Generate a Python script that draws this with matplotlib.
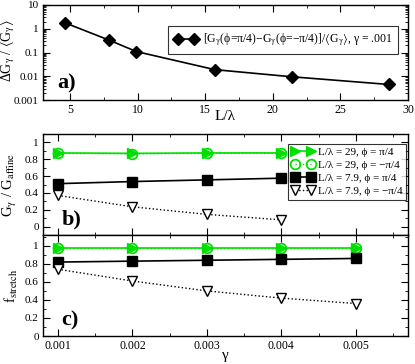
import matplotlib
matplotlib.use("Agg")
import matplotlib.pyplot as plt
from matplotlib.ticker import MultipleLocator, LogLocator, NullFormatter, FuncFormatter

plt.rcParams['font.family'] = ['Liberation Serif', 'DejaVu Serif']
plt.rcParams['mathtext.fontset'] = 'stix'

# Panel a data
L_lambda = [4.6, 7.9, 9.9, 15.7, 21.4, 28.6]
dG = [1.8, 0.33, 0.11, 0.019, 0.0095, 0.0045]

# Panel b data
gamma_b = [0.001, 0.002, 0.003, 0.004]
b_29_pos = [0.875, 0.87, 0.875, 0.875]
b_29_neg = [0.87, 0.865, 0.87, 0.87]
b_79_pos = [0.51, 0.535, 0.555, 0.575]
b_79_neg = [0.37, 0.235, 0.145, 0.08]

# Panel c data
gamma_c = [0.001, 0.002, 0.003, 0.004, 0.005]
c_29_pos = [0.98, 0.98, 0.98, 0.98, 0.98]
c_29_neg = [0.98, 0.98, 0.98, 0.98, 0.98]
c_79_pos = [0.82, 0.83, 0.84, 0.85, 0.86]
c_79_neg = [0.74, 0.61, 0.50, 0.42, 0.36]

labels = ['L/λ = 29, ϕ = π/4', 'L/λ = 29, ϕ = −π/4',
          'L/λ = 7.9, ϕ = π/4', 'L/λ = 7.9, ϕ = −π/4']

green = '#00e000'
fig = plt.figure(figsize=(4.15, 3.64), dpi=100)
W, H = 415, 364
def ax_rect(l, t, r, b):
    return [l / W, 1 - b / H, (r - l) / W, (b - t) / H]

axa = fig.add_axes(ax_rect(43, 5, 408, 100))
axb = fig.add_axes(ax_rect(43, 134, 408, 235))
axc = fig.add_axes(ax_rect(43, 235, 408, 336))

for ax in (axa, axb, axc):
    ax.tick_params(direction='in', which='both', top=True, right=True, labelsize=8.5, pad=3)
    ax.tick_params(which='major', length=5)
    ax.tick_params(which='minor', length=2.5)
    for s in ax.spines.values():
        s.set_linewidth(1.0)
for ax in (axa, axb, axc):
    ax.tick_params(axis='y', labelsize=8)

# Panel a
axa.plot(L_lambda, dG, color='black', marker='D', markersize=6, lw=1.2,
         label=r'[G$_\mathrm{\gamma}$(ϕ=π/4)−G$_\mathrm{\gamma}$(ϕ=−π/4)]/$\langle$G$_\mathrm{\gamma}\rangle$, γ = .001')
axa.set_yscale('log')
axa.set_xlim(3, 30)
axa.set_ylim(0.001, 10)
axa.xaxis.set_major_locator(MultipleLocator(5))
axa.xaxis.set_minor_locator(MultipleLocator(2.5))
axa.yaxis.set_minor_locator(LogLocator(base=10, subs=range(2, 10), numticks=10))
axa.yaxis.set_minor_formatter(NullFormatter())
axa.set_yticks([0.001, 0.01, 0.1, 1, 10])
axa.set_yticklabels(['0.001', '0.01', '0.1', '1', '10'])
axa.set_xlabel('L/λ', fontsize=11)
axa.xaxis.set_label_coords(0.5, -0.11)
axa.set_ylabel(r'ΔG$_\mathrm{\gamma}$ / $\langle$G$_\mathrm{\gamma}\rangle$', fontsize=10)
axa.yaxis.set_label_coords(-0.071, 0.52)
leg = axa.legend(loc='upper right', bbox_to_anchor=(0.99, 0.84), numpoints=2,
                 fontsize=8.5, frameon=True, fancybox=False, edgecolor='black',
                 handlelength=2.0, borderpad=0.5, handletextpad=0.4)
leg.get_frame().set_linewidth(0.8)
axa.text(0.04, 0.12, 'a)', transform=axa.transAxes, fontsize=16, fontweight='bold')

def draw_series(ax, g, s1, s2, s3, s4, lab):
    ax.plot(g, s1, color=green, marker='>', markersize=7, lw=1.2,
            markeredgecolor=green, label=lab[0] if lab else None)
    ax.plot(g, s2, color=green, marker='o', markersize=7, lw=1.0, ls=':',
            markerfacecolor='none', markeredgecolor=green, markeredgewidth=1.3,
            label=lab[1] if lab else None)
    ax.plot(g, s3, color='black', marker='s', markersize=6.5, lw=1.2,
            label=lab[2] if lab else None)
    ax.plot(g, s4, color='black', marker='v', markersize=7, lw=1.0, ls=':',
            markerfacecolor='white', markeredgecolor='black', markeredgewidth=1.0,
            label=lab[3] if lab else None)

draw_series(axb, gamma_b, b_29_pos, b_29_neg, b_79_pos, b_79_neg, labels)
draw_series(axc, gamma_c, c_29_pos, c_29_neg, c_79_pos, c_79_neg, None)

for ax in (axb, axc):
    ax.set_xlim(0.0008, 0.0057)
    ax.xaxis.set_major_locator(MultipleLocator(0.001))
    ax.xaxis.set_minor_locator(MultipleLocator(0.0005))
    ax.yaxis.set_major_locator(MultipleLocator(0.2))
    ax.yaxis.set_minor_locator(MultipleLocator(0.1))
    ax.yaxis.set_major_formatter(FuncFormatter(lambda v, p: '%g' % round(v, 1)))

axb.set_ylim(-0.1, 1.1)
axb.tick_params(labelbottom=False)
axc.set_ylim(0, 1.12)
axc.xaxis.set_major_formatter(FuncFormatter(lambda v, p: '%.3f' % v))
axc.set_xlabel('γ', fontsize=11)
axc.xaxis.set_label_coords(0.5, -0.13)
axb.set_ylabel(r'G$_\mathrm{\gamma}$ / G$_\mathrm{affine}$', fontsize=10.5)
axb.yaxis.set_label_coords(-0.066, 0.5)
axc.set_ylabel(r'f$_\mathrm{stretch}$', fontsize=10.5)
axc.yaxis.set_label_coords(-0.063, 0.5)
axb.text(0.05, 0.1, 'b)', transform=axb.transAxes, fontsize=16, fontweight='bold')
axc.text(0.05, 0.1, 'c)', transform=axc.transAxes, fontsize=16, fontweight='bold')

legb = axb.legend(loc='upper right', bbox_to_anchor=(1.0, 0.92), numpoints=2,
                  fontsize=8, frameon=True, fancybox=False, edgecolor='black',
                  handlelength=2.0, borderpad=0.3, handletextpad=0.4, labelspacing=0.3,
                  borderaxespad=0.15)
legb.get_frame().set_linewidth(0.8)

fig.savefig('out.png', dpi=100)
